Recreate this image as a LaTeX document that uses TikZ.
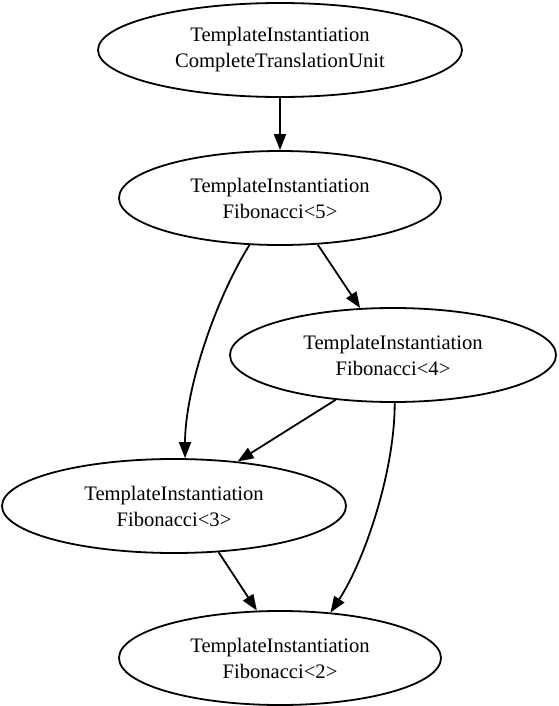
\documentclass[tikz,border=0pt]{standalone}
\usepackage{fontspec}
\setmainfont{Liberation Serif}
\usetikzlibrary{arrows.meta,shapes.geometric}
\begin{document}
\begin{tikzpicture}[x=1pt,y=-1pt,
  inst/.style={draw, ellipse, line width=1.8pt, inner sep=0pt, align=center,
    font=\fontsize{20.6}{26}\selectfont, minimum height=94pt},
  edge/.style={line width=1.8pt, -{Triangle[length=16pt,width=12pt]}}]
\useasboundingbox (0,0) rectangle (558,706);
\node[inst, minimum width=364pt] (n1) at (280,50) {TemplateInstantiation\\CompleteTranslationUnit};
\node[inst, minimum width=322pt] (n2) at (280,198) {TemplateInstantiation\\Fibonacci<5>};
\node[inst, minimum width=326pt] (f4) at (393,355) {TemplateInstantiation\\Fibonacci<4>};
\node[inst, minimum width=344pt] (f3) at (174,506) {TemplateInstantiation\\Fibonacci<3>};
\node[inst, minimum width=322pt] (f2) at (280,658) {TemplateInstantiation\\Fibonacci<2>};
\draw[edge] (n1) -- (n2);
\draw[edge] (n2.309) -- (f4.125);
\draw[edge] (n2.237) .. controls (215,300) and (185,390) .. (f3.77);
\draw[edge] (f4.218) -- (f3.35);
\draw[edge] (f4.272) .. controls (395,470) and (365,560) .. (f2.42);
\draw[edge] (f3.314) -- (f2.116);
\end{tikzpicture}
\end{document}
